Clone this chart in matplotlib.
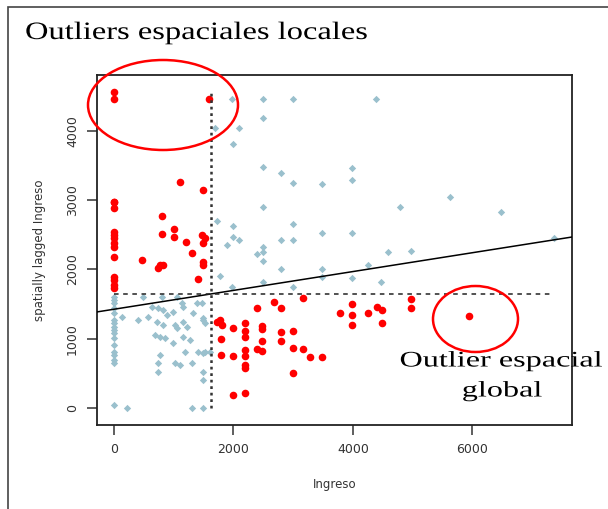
import matplotlib.pyplot as plt
import numpy as np
from matplotlib.patches import Ellipse, Rectangle
from matplotlib.patheffects import AbstractPathEffect
from matplotlib.transforms import Affine2D

# Ingreso vs spatially lagged Ingreso (Moran scatterplot)
# red = influential / outlier observations
red_x = [0, 0, 1590, 1105, 1490,
         0, 0, 0, 0, 0, 0, 0, 0, 0, 0, 0, 0, 0,
         804, 804, 1005, 1005, 1206, 1306, 1474, 1524, 1490, 1490, 1490, 1407,
         469, 770, 737, 821,
         1776, 1725, 1809, 1792, 1792, 1993, 1993, 1993, 2194, 2194, 2194, 2194,
         2194, 2194, 2194, 2194, 2395, 2479, 2479, 2479, 2395, 2479, 2680, 2797,
         2797, 2797, 2998, 2998, 2998, 3166, 3166, 3283, 3484, 3786, 3987, 3987,
         3987, 4255, 4405, 4489, 4489, 4975, 4975, 5946]
red_y = [4566, 4465, 4465, 3266, 3150,
         2977, 2977, 2890, 2543, 2500, 2457, 2384, 2327, 2182, 1893, 1850, 1777, 1734,
         2775, 2514, 2587, 2471, 2400, 2240, 2500, 2457, 2384, 2110, 2066, 1864,
         2139, 2066, 2023, 2066,
         1272, 1243, 1200, 997, 766, 1156, 751, 188, 1228, 1113, 1026, 838,
         751, 621, 578, 217, 1445, 1185, 1142, 968, 853, 824, 1532, 1445,
         1098, 968, 1113, 867, 506, 1590, 853, 737, 737, 1373, 1503, 1344,
         1199, 1373, 1460, 1416, 1228, 1575, 1445, 1329]

# light blue = the rest
blue_x = [1977, 2496, 2998, 4389, 2496, 1692, 2094, 1993, 2496, 2797, 3987, 3987,
          2998, 3484, 2496, 1725, 1993, 2998, 3484, 3987, 1993, 2094, 2797, 2998,
          1893, 2496, 2496, 2395, 2496, 2797, 3484, 4255, 1776, 2496, 2998, 3484,
          3987, 4472, 1977, 4791, 5628, 6482, 7370, 4590, 4975,
          0, 0, 0, 0, 0, 0, 0, 0, 0, 0, 0, 0, 0, 0, 0, 0, 0,
          218, 486, 804, 1055, 1390, 1474, 636, 737, 821, 1139, 1156, 988, 134,
          402, 570, 888, 720, 821, 1022, 1055, 1156, 1223, 1323, 1490, 1524, 687,
          770, 854, 988, 1156, 1273, 1189, 1407, 1524, 1608, 770, 737, 1022, 1105,
          1306, 1490, 1490, 1306, 1490, 737, 1490, 1490]
blue_y = [4465, 4465, 4465, 4465, 4191, 4046, 4046, 3815, 3483, 3396, 3468, 3295,
          3251, 3237, 2905, 2702, 2630, 2659, 2529, 2529, 2471, 2428, 2428, 2428,
          2355, 2327, 2254, 2225, 2124, 2009, 2009, 2066, 1908, 1821, 1749, 1893,
          1879, 1821, 1749, 2905, 3049, 2832, 2457, 2254, 2269,
          1604, 1561, 1517, 1445, 1373, 1272, 1228, 1171, 1127, 1084, 1012, 910,
          809, 766, 694, 650, 43,
          0, 1604, 1604, 1604, 1517, 1517, 1460, 1445, 1416, 1517, 1460, 1387, 1315,
          1272, 1315, 1344, 1243, 1199, 1199, 1156, 1243, 1171, 1373, 1272, 1228, 1055,
          1026, 1012, 939, 1026, 983, 809, 809, 809, 809, 766, 650, 650, 621,
          650, 520, 405, 0, 0, 520, 1300, 795]

x_mean = 1625
y_mean = 1647
intercept = 1426
slope = 0.136


class Stretch(AbstractPathEffect):
    # widen glyphs horizontally around x0 (display pixels); the text stays text
    def __init__(self, sx, x0):
        super().__init__()
        self.sx = sx
        self.x0 = x0

    def draw_path(self, renderer, gc, tpath, affine, rgbFace=None):
        t = affine + Affine2D().translate(-self.x0, 0).scale(self.sx, 1).translate(self.x0, 0)
        renderer.draw_path(gc, tpath, t, rgbFace)


W, H = 608, 509
fig = plt.figure(figsize=(6.08, 5.09), dpi=100)
ax = fig.add_axes([97 / W, 1 - 425 / H, 475 / W, 350 / H])

ax.scatter(blue_x, blue_y, s=14, marker='D', color='#9ac0cd', linewidths=0, zorder=2)
ax.scatter(red_x, red_y, s=30, marker='o', color='#ff0000', linewidths=0, zorder=3)

# regression line and mean lines
ax.axline((0, intercept), slope=slope, color='black', lw=1.1, zorder=4)
ax.plot([min(red_x + blue_x), max(red_x + blue_x)], [y_mean, y_mean],
        color='#222222', lw=1.1, linestyle=(0, (3, 3)), zorder=4)
ax.plot([x_mean, x_mean], [min(red_y + blue_y), max(red_y + blue_y)],
        color='#333333', lw=1.8, linestyle=(0, (1.1, 1.5)), zorder=4)

ax.set_xlim(-285, 7670)
ax.set_ylim(-246, 4809)
ax.set_xticks([0, 2000, 4000, 6000])
ax.set_yticks([0, 1000, 2000, 3000, 4000])
ax.tick_params(length=7, width=1.1, colors='#333333', labelsize=9, pad=6)
for lab in ax.get_yticklabels():
    lab.set_rotation(90)
    lab.set_va('center')
for sp in ax.spines.values():
    sp.set_linewidth(1.3)
    sp.set_color('#222222')

ax.set_xlabel('Ingreso', fontsize=8.5, color='#333333', labelpad=16)
ax.set_ylabel('spatially lagged Ingreso', fontsize=8.5, color='#333333', labelpad=14)

# annotations drawn on top of the figure
fig.text(25 / W, 1 - 33 / H, 'Outliers espaciales locales', fontsize=18,
         family='Liberation Serif', va='center', ha='left',
         path_effects=[Stretch(1.3, 25)])
fig.text(501 / W, 1 - 362 / H, 'Outlier espacial', fontsize=16,
         family='Liberation Serif', va='center', ha='center',
         path_effects=[Stretch(1.45, 501)])
fig.text(502 / W, 1 - 392 / H, 'global', fontsize=16,
         family='Liberation Serif', va='center', ha='center',
         path_effects=[Stretch(1.45, 502)])

fig.add_artist(Ellipse((163 / W, 1 - 105 / H), 150 / W, 90 / H, fill=False,
                       edgecolor='#ff0000', lw=1.8, transform=fig.transFigure))
fig.add_artist(Ellipse((475.5 / W, 1 - 319 / H), 85 / W, 66 / H, fill=False,
                       edgecolor='#ff0000', lw=1.8, transform=fig.transFigure))
fig.add_artist(Rectangle((8 / W, -0.1), 1.2, 1 - 7 / H + 0.1, fill=False,
                         edgecolor='#444444', lw=1.2, transform=fig.transFigure))

fig.savefig('out.png', dpi=100)
